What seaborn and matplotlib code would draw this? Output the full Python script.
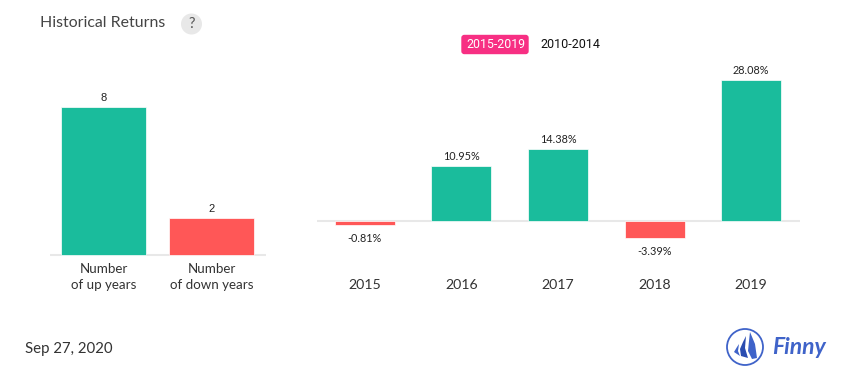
import numpy as np
import pandas as pd
import seaborn as sns
import matplotlib.pyplot as plt
from matplotlib.patches import Circle, FancyBboxPatch, Polygon

W, H = 855, 382

count_labels = ['Number\nof up years', 'Number\nof down years']
count_values = [8, 2]
years = ['2015', '2016', '2017', '2018', '2019']
returns = [-0.81, 10.95, 14.38, -3.39, 28.08]
return_labels = ['-0.81%', '10.95%', '14.38%', '-3.39%', '28.08%']

GREEN = '#1abc9c'
RED = '#ff5757'
DARK = '#333333'

sns.set_theme(style='white')
plt.rcParams['font.family'] = ['Lato', 'Open Sans', 'DejaVu Sans']


def axes_px(fig, x0, y0, x1, y1):
    # pixel box, y measured from the top
    return fig.add_axes([x0 / W, 1 - y1 / H, (x1 - x0) / W, (y1 - y0) / H])


def clean(ax):
    sns.despine(ax=ax, left=True, bottom=True, top=True, right=True)
    ax.set_xlabel('')
    ax.set_ylabel('')
    ax.set_yticks([])
    ax.patch.set_alpha(0)
    ax.tick_params(axis='x', length=0)
    ax.axhline(0, color='#e8e8e8', lw=1.5, zorder=0)


def color_of(v):
    return 'up' if v >= 0 else 'down'


fig = plt.figure(figsize=(W / 100, H / 100), dpi=100, facecolor='white')

# left chart
ax1 = axes_px(fig, 49.6, 90, 265.6, 300)
df1 = pd.DataFrame({'label': count_labels, 'value': count_values,
                    'kind': ['up', 'down']})
sns.barplot(data=df1, x='label', y='value', hue='kind', dodge=False, legend=False,
            palette={'up': GREEN, 'down': RED}, width=0.78, saturation=1,
            edgecolor='white', linewidth=0.5, ax=ax1)
ax1.set_xlim(-0.5, 1.5)
px1 = 148 / 8
ax1.set_ylim(-45 / px1, 165 / px1)
clean(ax1)
ax1.set_xticks(range(2))
ax1.set_xticklabels([])
for i, v in enumerate(count_values):
    ax1.annotate(str(v), (i, v), xytext=(0, 3), textcoords='offset points',
                 ha='center', va='bottom', fontsize=8, color='#222222',
                 family=['Liberation Sans', 'DejaVu Sans'])
    ax1.annotate(count_labels[i], (i, 0), xytext=(0, -6), textcoords='offset points',
                 ha='center', va='top', fontsize=9.6, color=DARK, linespacing=1.36)

# right chart
ax2 = axes_px(fig, 316.5, 60, 799.5, 300)
df2 = pd.DataFrame({'year': years, 'value': returns,
                    'kind': [color_of(v) for v in returns]})
sns.barplot(data=df2, x='year', y='value', hue='kind', dodge=False, legend=False,
            palette={'up': GREEN, 'down': RED}, width=0.62, saturation=1,
            edgecolor='white', linewidth=0.5, ax=ax2)
ax2.set_xlim(-0.5, 4.5)
px2 = 141 / 28.08
ax2.set_ylim(-79 / px2, 161 / px2)
clean(ax2)
ax2.set_xticks(range(5))
ax2.set_xticklabels([])
for i, (v, s) in enumerate(zip(returns, return_labels)):
    if v >= 0:
        ax2.annotate(s, (i, v), xytext=(0, 2.8), textcoords='offset points',
                     ha='center', va='bottom', fontsize=7.8, color='#222222')
    else:
        ax2.annotate(s, (i, v), xytext=(0, -5.6), textcoords='offset points',
                     ha='center', va='top', fontsize=7.8, color='#222222')
    ax2.annotate(years[i], (i, 0), xytext=(0, -41.5), textcoords='offset points',
                 ha='center', va='top', fontsize=10.2, color=DARK)

# overlay for title, toggle, date and logo, in pixels
over = fig.add_axes([0, 0, 1, 1])
over.set_xlim(0, W)
over.set_ylim(H, 0)
over.axis('off')
over.patch.set_alpha(0)

over.text(40, 23, 'Historical Returns', fontsize=11.4, color='#444444', va='center')
over.add_patch(Circle((191.5, 24), 10.5, color='#e8e8e8', lw=0))
over.text(191.5, 24, '?', fontsize=10.5, color='#555555', ha='center', va='center')

over.add_patch(FancyBboxPatch((462.5, 36), 65, 17, boxstyle='round,pad=1.2,rounding_size=3',
                              fc='#f72f83', ec='none'))
over.text(496, 44.5, '2015-2019', fontsize=8.9, color='white', ha='center', va='center',
          family=['Roboto', 'DejaVu Sans'])
over.text(570, 44.5, '2010-2014', fontsize=9, color='#111111', ha='center', va='center',
          family=['Roboto', 'DejaVu Sans'])

over.text(25, 348.5, 'Sep 27, 2020', fontsize=10.8, color=DARK, va='center')

# logo
BLUE = '#3f63c9'
over.add_patch(Circle((745, 347), 18, fc='white', ec=BLUE, lw=1.3))
over.add_patch(Polygon([(749, 341), (750, 332), (755, 344), (757, 358), (752, 359), (748, 351)],
                       fc=BLUE, ec='none'))
over.add_patch(Polygon([(743, 342), (746, 336), (745, 348), (748, 358), (741, 356), (740, 349)],
                       fc='#2a4cb0', ec='none'))
over.add_patch(Polygon([(737, 347), (739, 344), (738, 351), (740, 356), (734, 352)],
                       fc=BLUE, ec='none'))
over.text(799, 347, 'Finny', fontsize=16.5, color=BLUE, ha='center', va='center',
          style='italic', weight='bold', family=['Lato', 'DejaVu Sans'])

fig.savefig('out.png', dpi=100)
